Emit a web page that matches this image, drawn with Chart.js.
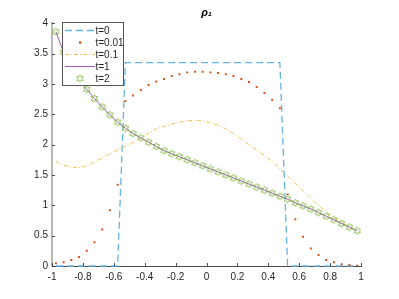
<!DOCTYPE html>
<html>
<head>
<meta charset="utf-8">
<script src="https://cdn.jsdelivr.net/npm/chart.js@4"></script>
<style>
html,body{margin:0;padding:0;background:#fff;}
#c{display:block;}
</style>
</head>
<body>
<canvas id="c" width="399" height="299"></canvas>
<script>
// ---- data ----
const xCenters = [-0.975,-0.925,-0.875,-0.825,-0.775,-0.725,-0.675,-0.625,-0.575,-0.525,
  -0.475,-0.425,-0.375,-0.325,-0.275,-0.225,-0.175,-0.125,-0.075,-0.025,
  0.025,0.075,0.125,0.175,0.225,0.275,0.325,0.375,0.425,0.475,
  0.525,0.575,0.625,0.675,0.725,0.775,0.825,0.875,0.925,0.975];

const rhoT0 = [0,0,0,0,0,0,0,0,0,3.35,
  3.35,3.35,3.35,3.35,3.35,3.35,3.35,3.35,3.35,3.35,
  3.35,3.35,3.35,3.35,3.35,3.35,3.35,3.35,3.35,3.35,
  0,0,0,0,0,0,0,0,0,0];

const rhoT001 = [0.044,0.06,0.10,0.15,0.25,0.39,0.60,0.92,1.34,2.72,
  2.81,2.90,2.98,3.04,3.08,3.13,3.16,3.19,3.20,3.20,
  3.19,3.18,3.16,3.13,3.08,3.03,2.95,2.85,2.74,2.60,
  1.18,0.77,0.48,0.29,0.18,0.10,0.06,0.03,0.016,0.005];

const rhoT01 = [1.72,1.66,1.63,1.62,1.65,1.71,1.78,1.85,1.91,1.97,
  2.04,2.11,2.19,2.26,2.30,2.34,2.37,2.39,2.40,2.39,
  2.36,2.32,2.26,2.18,2.09,2.00,1.91,1.82,1.72,1.60,
  1.48,1.36,1.24,1.12,1.00,0.89,0.79,0.71,0.64,0.57];

const rhoT1 = [3.86,3.52,3.27,3.07,2.91,2.76,2.62,2.49,2.37,2.27,
  2.18,2.11,2.04,1.97,1.90,1.85,1.80,1.75,1.70,1.65,
  1.60,1.55,1.50,1.45,1.40,1.35,1.30,1.25,1.20,1.15,
  1.10,1.04,0.99,0.94,0.88,0.82,0.76,0.70,0.64,0.58];

const rhoT2 = [3.86,3.52,3.27,3.07,2.91,2.76,2.62,2.49,2.37,2.27,
  2.18,2.11,2.04,1.97,1.90,1.85,1.80,1.75,1.70,1.65,
  1.60,1.55,1.50,1.45,1.40,1.35,1.30,1.25,1.20,1.15,
  1.10,1.04,0.99,0.94,0.88,0.82,0.76,0.70,0.64,0.58];

const seriesLabels = ['t=0','t=0.01','t=0.1','t=1','t=2'];
const xTicks = [-1,-0.8,-0.6,-0.4,-0.2,0,0.2,0.4,0.6,0.8,1];
const xTickLabels = ['-1','-0.8','-0.6','-0.4','-0.2','0','0.2','0.4','0.6','0.8','1'];
const yTicks = [0,0.5,1,1.5,2,2.5,3,3.5,4];
const yTickLabels = ['0','0.5','1','1.5','2','2.5','3','3.5','4'];
const titleText = 'ρ₁';

// ---- helpers ----
function pts(ys){ return xCenters.map((x,i)=>({x:x,y:ys[i]})); }

const GREEN = '#80b63e';
function makeHexagram(){
  const c = document.createElement('canvas');
  c.width = 9; c.height = 9;
  const g = c.getContext('2d');
  const cx = 4.5, cy = 4.5, R = 3.7, r = R/Math.sqrt(3);
  g.beginPath();
  for(let k=0;k<12;k++){
    const a = -Math.PI/2 + k*Math.PI/6;
    const rad = (k%2===0)?R:r;
    const px = cx + rad*Math.cos(a), py = cy + rad*Math.sin(a);
    if(k===0) g.moveTo(px,py); else g.lineTo(px,py);
  }
  g.closePath();
  g.strokeStyle = GREEN; g.lineWidth = 0.9; g.stroke();
  return c;
}
const hexImg = makeHexagram();

const FONT = '"Liberation Sans", Arial, "DejaVu Sans", sans-serif';
const AXIS = '#262626';

const innerTicks = {
  id:'innerTicks',
  afterDatasetsDraw(chart){
    const ctx = chart.ctx, xs = chart.scales.x, ys = chart.scales.y;
    const a = chart.chartArea;
    ctx.save();
    ctx.strokeStyle = AXIS; ctx.lineWidth = 0.8;
    xTicks.forEach(v=>{
      const p = Math.round(xs.getPixelForValue(v))+0.5;
      ctx.beginPath(); ctx.moveTo(p,a.bottom); ctx.lineTo(p,a.bottom-3); ctx.stroke();
    });
    yTicks.forEach(v=>{
      const p = Math.round(ys.getPixelForValue(v))+0.5;
      ctx.beginPath(); ctx.moveTo(a.left,p); ctx.lineTo(a.left+3,p); ctx.stroke();
    });
    ctx.restore();
  }
};

const boxLegend = {
  id:'boxLegend',
  afterDraw(chart){
    const ctx = chart.ctx;
    const x0 = 62.5, y0 = 22.5, w = 61, h = 63;
    ctx.save();
    ctx.fillStyle = '#fff';
    ctx.fillRect(x0,y0,w,h);
    ctx.strokeStyle = '#555'; ctx.lineWidth = 1;
    ctx.strokeRect(x0,y0,w,h);
    const ds = chart.data.datasets;
    const lx1 = 65, lx2 = 95, tx = 95.5;
    ctx.font = '10px ' + FONT;
    ctx.textBaseline = 'middle';
    ctx.fillStyle = AXIS;
    ds.forEach((d,i)=>{
      const yy = 30.5 + i*12;
      if(d.showLine !== false){
        ctx.save();
        ctx.strokeStyle = d.borderColor; ctx.lineWidth = d.borderWidth;
        ctx.setLineDash(d.borderDash || []);
        ctx.beginPath(); ctx.moveTo(lx1,yy); ctx.lineTo(lx2,yy); ctx.stroke();
        ctx.restore();
      } else if(d.pointStyle === 'rect'){
        ctx.fillStyle = d.backgroundColor;
        ctx.fillRect(79,yy-1.2,2.4,2.4);
        ctx.fillStyle = AXIS;
      } else {
        ctx.drawImage(hexImg, 80-4.5, yy-4.5);
      }
      ctx.fillText(d.label, tx, yy+0.5);
    });
    ctx.restore();
  }
};

new Chart(document.getElementById('c'), {
  type:'scatter',
  data:{
    datasets:[
      {label:seriesLabels[0], data:pts(rhoT0), showLine:true, borderColor:'#63b3e6', borderWidth:1.3,
       borderDash:[7,4], pointRadius:0, order:5, clip:4},
      {label:seriesLabels[1], data:pts(rhoT001), showLine:false, pointStyle:'rect', pointRadius:1.4,
       backgroundColor:'#D95319', borderWidth:0, order:4},
      {label:seriesLabels[2], data:pts(rhoT01), showLine:true, borderColor:'#EFBE4E', borderWidth:1,
       borderDash:[4,2,1,2], pointRadius:0, order:3},
      {label:seriesLabels[3], data:pts(rhoT1), showLine:true, borderColor:'#9b5bb0', borderWidth:1,
       pointRadius:0, order:2},
      {label:seriesLabels[4], data:pts(rhoT2), showLine:false, pointStyle:hexImg, pointRadius:4,
       borderColor:GREEN, order:1}
    ]
  },
  options:{
    responsive:false,
    devicePixelRatio:1,
    animation:false,
    events:[],
    layout:{padding:{left:0,right:38,top:0,bottom:0}},
    plugins:{
      legend:{display:false},
      tooltip:{enabled:false},
      title:{display:true, text:titleText, fullSize:false, color:'#000',
        font:{family:FONT, size:11, style:'italic', weight:'bold', lineHeight:1.2},
        padding:{top:6,bottom:4}}
    },
    scales:{
      x:{type:'linear', min:-1, max:1,
        afterBuildTicks(s){ s.ticks = xTicks.map(v=>({value:v})); },
        afterFit(s){ s.height = 33; },
        grid:{display:false, drawTicks:false},
        border:{display:true, color:'#4a4a4a', width:1},
        ticks:{padding:5, color:AXIS, font:{family:FONT,size:10},
          callback:(v,i)=>xTickLabels[i]}
      },
      y:{type:'linear', min:0, max:4,
        afterBuildTicks(s){ s.ticks = yTicks.map(v=>({value:v})); },
        afterFit(s){ s.width = 52; },
        grid:{display:false, drawTicks:false},
        border:{display:true, color:'#b8b8b8', width:2},
        ticks:{padding:4, color:AXIS, font:{family:FONT,size:10},
          callback:(v,i)=>yTickLabels[i]}
      }
    }
  },
  plugins:[innerTicks, boxLegend]
});
</script>
</body>
</html>
